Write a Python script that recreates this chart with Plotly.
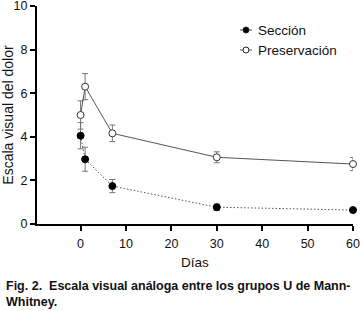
import plotly.graph_objects as go

days = [0, 1, 7, 30, 60]
seccion = [4.05, 2.97, 1.74, 0.77, 0.64]
seccion_err = [0.6, 0.55, 0.3, 0.15, 0.12]
preserv = [5.0, 6.3, 4.16, 3.06, 2.75]
preserv_err = [0.65, 0.6, 0.38, 0.25, 0.3]

x_ticks = [0, 10, 20, 30, 40, 50, 60]
y_ticks = [0, 2, 4, 6, 8, 10]
legend_names = ["Sección", "Preservación"]

FONT = "Liberation Sans, Arial, Helvetica, sans-serif"
GREY = "#555555"

W, H = 360, 311
L, R, T, B = 37, 7, 6, 87
PW, PH = W - L - R, H - T - B

def px(x):
    return (x - L) / PW

def py(y):
    return (H - B - y) / PH

fig = go.Figure()
fig.add_trace(go.Scatter(
    x=days, y=seccion, name=legend_names[0], mode="lines+markers",
    line=dict(color=GREY, width=1, dash="1.5px,2px"),
    marker=dict(symbol="circle", size=7, color="black", line=dict(color="black", width=1)),
    error_y=dict(type="data", array=seccion_err, color="#777777", thickness=1, width=3),
    cliponaxis=False, showlegend=False,
))
fig.add_trace(go.Scatter(
    x=days, y=preserv, name=legend_names[1], mode="lines+markers",
    line=dict(color=GREY, width=1),
    marker=dict(symbol="circle", size=7, color="white", line=dict(color="#333333", width=1)),
    error_y=dict(type="data", array=preserv_err, color="#777777", thickness=1, width=3),
    cliponaxis=False, showlegend=False,
))

# custom legend (symbol + label)
for i, (name, fill) in enumerate(zip(legend_names, ["black", "white"])):
    cy = 30 + 20 * i
    fig.add_shape(type="line", xref="paper", yref="paper",
                  x0=px(240), x1=px(252), y0=py(cy), y1=py(cy),
                  line=dict(color=GREY, width=1))
    fig.add_shape(type="circle", xref="paper", yref="paper",
                  x0=px(243), x1=px(249), y0=py(cy + 3), y1=py(cy - 3),
                  fillcolor=fill, line=dict(color="#222222", width=1))
    fig.add_annotation(xref="paper", yref="paper", x=px(256), y=py(cy),
                       xanchor="left", yanchor="middle", text=name, showarrow=False,
                       font=dict(size=13.5, family=FONT, color="#111111"))

fig.update_layout(
    width=W, height=H,
    margin=dict(l=L, r=R, t=T, b=B, autoexpand=False),
    paper_bgcolor="white", plot_bgcolor="white",
    font=dict(family=FONT, color="#111111", size=12),
    showlegend=False,
    xaxis=dict(range=[-9.6, 60], tickvals=x_ticks, ticks="outside", ticklen=5,
               tickwidth=1.5, tickcolor="black", showline=True, linecolor="black",
               linewidth=2, showgrid=False, zeroline=False, automargin=False,
               tickfont=dict(size=12.5), ticklabeloverflow="allow",
               ticklabelstandoff=2,
               title=dict(text="Días", font=dict(size=13.5), standoff=8)),
    yaxis=dict(range=[0, 10], tickvals=y_ticks, ticks="outside", ticklen=5,
               tickwidth=1.5, tickcolor="black", showline=True, linecolor="black",
               linewidth=2, showgrid=False, zeroline=False, automargin=False,
               tickfont=dict(size=12.5), ticklabeloverflow="allow",
               title=dict(text="Escala visual del dolor", font=dict(size=14), standoff=6)),
)

fig.add_annotation(
    xref="paper", yref="paper", x=px(4), y=py(294), xanchor="left", yanchor="middle",
    text="<b>Fig. 2.  Escala visual análoga entre los grupos U de Mann-<br>Whitney.</b>",
    showarrow=False, align="left", font=dict(size=12.5, family=FONT, color="#111111"),
)

fig.write_html("out.html", config={"displayModeBar": False},
               post_script="document.body.style.margin='0';")
